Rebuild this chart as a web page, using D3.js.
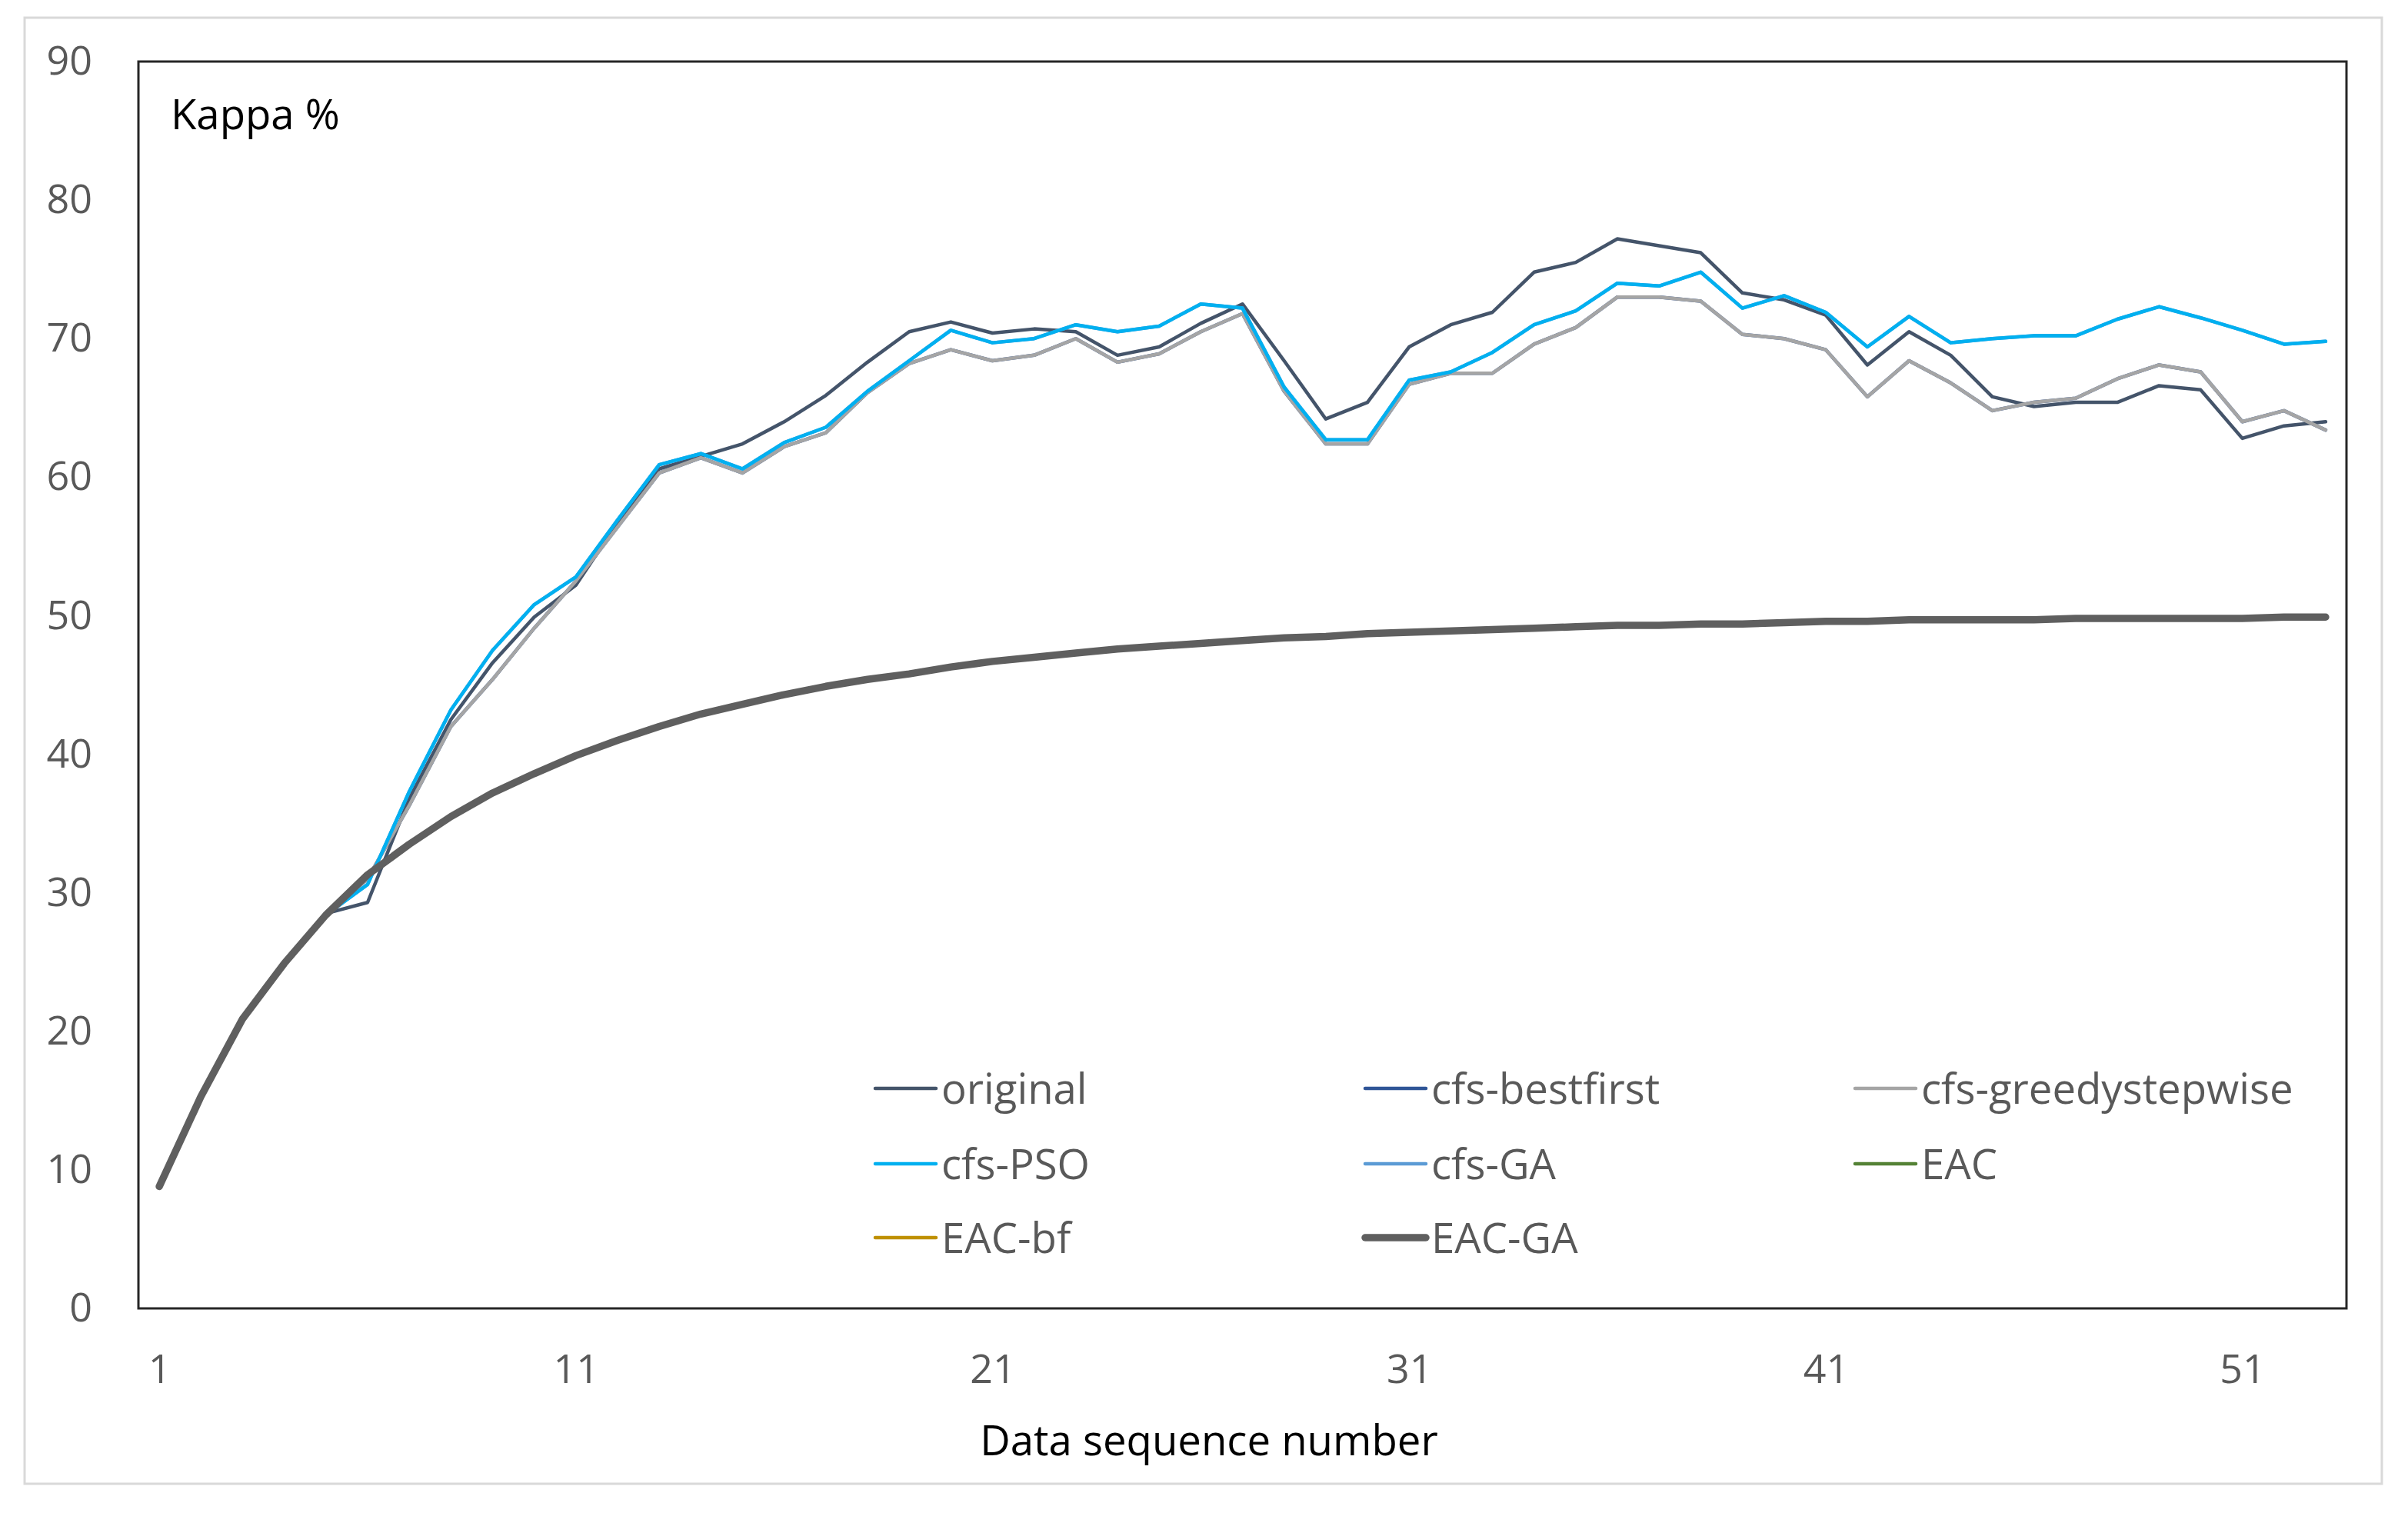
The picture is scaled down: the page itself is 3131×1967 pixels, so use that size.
<!DOCTYPE html>
<html>
<head>
<meta charset="utf-8">
<script src="https://cdn.jsdelivr.net/npm/d3@7"></script>
<style>
  html, body { margin: 0; padding: 0; background: #ffffff; }
  svg { display: block; }
</style>
</head>
<body>
<script>
// ---------------- data ----------------
const categories = [1,2,3,4,5,6,7,8,9,10,11,12,13,14,15,16,17,18,19,20,21,22,23,24,25,26,27,28,29,30,31,32,33,34,35,36,37,38,39,40,41,42,43,44,45,46,47,48,49,50,51,52,53];
const xTickLabels = [1, 11, 21, 31, 41, 51];
const yTickLabels = [0, 10, 20, 30, 40, 50, 60, 70, 80, 90];
const seriesNames = ["original", "cfs-bestfirst", "cfs-greedystepwise", "cfs-PSO", "cfs-GA", "EAC", "EAC-bf", "EAC-GA"];

const original = [8.8,15.3,20.9,24.9,28.5,29.3,36.8,42.5,46.6,49.9,52.2,56.7,60.6,61.5,62.4,64.0,65.9,68.3,70.5,71.2,70.4,70.7,70.5,68.8,69.4,71.1,72.5,68.4,64.2,65.4,69.4,71.0,71.9,74.8,75.5,77.2,76.7,76.2,73.3,72.8,71.7,68.1,70.5,68.8,65.8,65.1,65.4,65.4,66.6,66.3,62.8,63.7,64.0];
const cfsBestfirst = [8.8,15.3,20.9,24.9,28.4,31.0,36.3,42.0,45.4,49.1,52.5,56.4,60.3,61.4,60.3,62.2,63.2,66.1,68.2,69.2,68.4,68.8,70.0,68.3,68.9,70.5,71.8,66.2,62.4,62.4,66.7,67.5,67.5,69.6,70.8,73.0,73.0,72.7,70.3,70.0,69.2,65.8,68.4,66.8,64.8,65.4,65.7,67.1,68.1,67.6,64.0,64.8,63.4];
const cfsGreedy = [8.8,15.3,20.9,24.9,28.4,31.0,36.3,42.0,45.4,49.1,52.5,56.4,60.3,61.4,60.3,62.2,63.2,66.1,68.2,69.2,68.4,68.8,70.0,68.3,68.9,70.5,71.8,66.2,62.4,62.4,66.7,67.5,67.5,69.6,70.8,73.0,73.0,72.7,70.3,70.0,69.2,65.8,68.4,66.8,64.8,65.4,65.7,67.1,68.1,67.6,64.0,64.8,63.4];
const cfsPSO = [8.8,15.3,20.9,24.9,28.4,30.6,37.3,43.2,47.5,50.8,52.8,56.9,60.9,61.7,60.6,62.5,63.6,66.2,68.4,70.6,69.7,70.0,71.0,70.5,70.9,72.5,72.2,66.5,62.7,62.7,67.0,67.6,69.0,71.0,72.0,74.0,73.8,74.8,72.2,73.1,71.9,69.4,71.6,69.7,70.0,70.2,70.2,71.4,72.3,71.5,70.6,69.6,69.8];
const cfsGA = [8.8,15.3,20.9,24.9,28.4,30.6,37.3,43.2,47.5,50.8,52.8,56.9,60.9,61.7,60.6,62.5,63.6,66.2,68.4,70.6,69.7,70.0,71.0,70.5,70.9,72.5,72.2,66.5,62.7,62.7,67.0,67.6,69.0,71.0,72.0,74.0,73.8,74.8,72.2,73.1,71.9,69.4,71.6,69.7,70.0,70.2,70.2,71.4,72.3,71.5,70.6,69.6,69.8];
const eac = [8.8,15.3,20.9,24.9,28.4,31.3,33.5,35.5,37.2,38.6,39.9,41.0,42.0,42.9,43.6,44.3,44.9,45.4,45.8,46.3,46.7,47.0,47.3,47.6,47.8,48.0,48.2,48.4,48.5,48.7,48.8,48.9,49.0,49.1,49.2,49.3,49.3,49.4,49.4,49.5,49.6,49.6,49.7,49.7,49.7,49.7,49.8,49.8,49.8,49.8,49.8,49.9,49.9];
const eacBf = [8.8,15.3,20.9,24.9,28.4,31.3,33.5,35.5,37.2,38.6,39.9,41.0,42.0,42.9,43.6,44.3,44.9,45.4,45.8,46.3,46.7,47.0,47.3,47.6,47.8,48.0,48.2,48.4,48.5,48.7,48.8,48.9,49.0,49.1,49.2,49.3,49.3,49.4,49.4,49.5,49.6,49.6,49.7,49.7,49.7,49.7,49.8,49.8,49.8,49.8,49.8,49.9,49.9];
const eacGA = [8.8,15.3,20.9,24.9,28.4,31.3,33.5,35.5,37.2,38.6,39.9,41.0,42.0,42.9,43.6,44.3,44.9,45.4,45.8,46.3,46.7,47.0,47.3,47.6,47.8,48.0,48.2,48.4,48.5,48.7,48.8,48.9,49.0,49.1,49.2,49.3,49.3,49.4,49.4,49.5,49.6,49.6,49.7,49.7,49.7,49.7,49.8,49.8,49.8,49.8,49.8,49.9,49.9];

// ---------------- styling ----------------
const W = 3131, H = 1967;
const plot = { left: 180, right: 3051, top: 80, bottom: 1701 };
const FONT = "'Open Sans', 'Noto Sans', sans-serif";
const FS_TICK = 52;
const FS_TEXT = 54.5;

const styles = {
  "original":           { color: "#44546A", width: 4.5 },
  "cfs-bestfirst":      { color: "#2F5597", width: 4.5 },
  "cfs-greedystepwise": { color: "#A5A5A5", width: 4.5 },
  "cfs-PSO":            { color: "#00B0F0", width: 4.5 },
  "cfs-GA":             { color: "#5B9BD5", width: 4.5 },
  "EAC":                { color: "#548235", width: 4.5 },
  "EAC-bf":             { color: "#BF9000", width: 4.5 },
  "EAC-GA":             { color: "#5F5F5F", width: 9.5 }
};

const seriesData = {
  "original": original,
  "cfs-bestfirst": cfsBestfirst,
  "cfs-greedystepwise": cfsGreedy,
  "cfs-PSO": cfsPSO,
  "cfs-GA": cfsGA,
  "EAC": eac,
  "EAC-bf": eacBf,
  "EAC-GA": eacGA
};
// drawing order (coinciding series are painted underneath the visible ones)
const drawOrder = ["cfs-bestfirst", "original", "cfs-greedystepwise", "cfs-GA", "cfs-PSO", "EAC", "EAC-bf", "EAC-GA"];

// ---------------- chart ----------------
const svg = d3.select("body").append("svg")
  .attr("width", W).attr("height", H)
  .attr("viewBox", `0 0 ${W} ${H}`);

svg.append("rect").attr("x", 0).attr("y", 0).attr("width", W).attr("height", H).attr("fill", "#ffffff");

// outer chart border
svg.append("rect")
  .attr("x", 32).attr("y", 23).attr("width", 3065).attr("height", 1906)
  .attr("fill", "none").attr("stroke", "#D9D9D9").attr("stroke-width", 3);

const x = d3.scalePoint().domain(categories).range([plot.left, plot.right]).padding(0.5);
const y = d3.scaleLinear().domain([0, 90]).range([plot.bottom, plot.top]);

// y axis
const yAxis = svg.append("g")
  .attr("transform", `translate(${plot.left},0)`)
  .call(d3.axisLeft(y).tickValues(yTickLabels).tickSize(0).tickPadding(60).tickFormat(d3.format("d")));
yAxis.select(".domain").remove();
yAxis.selectAll("text").attr("font-family", FONT).attr("font-size", FS_TICK).attr("fill", "#595959");

// x axis
const xAxis = svg.append("g")
  .attr("transform", `translate(0,${plot.bottom})`)
  .call(d3.axisBottom(x).tickValues(xTickLabels).tickSize(0).tickPadding(60));
xAxis.select(".domain").remove();
xAxis.selectAll("text").attr("font-family", FONT).attr("font-size", FS_TICK).attr("fill", "#595959");

// lines
const line = d3.line()
  .x((d, i) => x(categories[i]))
  .y(d => y(d));

const linesG = svg.append("g");
drawOrder.forEach(name => {
  linesG.append("path")
    .datum(seriesData[name])
    .attr("d", line)
    .attr("fill", "none")
    .attr("stroke", styles[name].color)
    .attr("stroke-width", styles[name].width)
    .attr("stroke-linejoin", "round")
    .attr("stroke-linecap", "round");
});

// plot area frame
svg.append("rect")
  .attr("x", plot.left).attr("y", plot.top)
  .attr("width", plot.right - plot.left).attr("height", plot.bottom - plot.top)
  .attr("fill", "none").attr("stroke", "#262626").attr("stroke-width", 3);

// in-plot label
svg.append("text")
  .attr("x", 222).attr("y", 168)
  .attr("font-family", FONT).attr("font-size", FS_TEXT).attr("fill", "#000000")
  .text("Kappa %");

// x axis title
svg.append("text")
  .attr("x", 1572).attr("y", 1892)
  .attr("text-anchor", "middle")
  .attr("font-family", FONT).attr("font-size", FS_TEXT).attr("fill", "#000000")
  .text("Data sequence number");

// legend
const legendCols = [1138, 1775, 2412];
const legendRows = [1415, 1513, 1609];
const legend = svg.append("g");
seriesNames.forEach((name, i) => {
  const cx = legendCols[i % 3];
  const cy = legendRows[Math.floor(i / 3)];
  legend.append("line")
    .attr("x1", cx).attr("x2", cx + 79)
    .attr("y1", cy).attr("y2", cy)
    .attr("stroke", styles[name].color)
    .attr("stroke-width", name === "EAC-GA" ? 9.5 : 4.5)
    .attr("stroke-linecap", "round");
  legend.append("text")
    .attr("x", cx + 86).attr("y", cy + 20)
    .attr("font-family", FONT).attr("font-size", FS_TEXT).attr("fill", "#595959")
    .text(name);
});
</script>
</body>
</html>
